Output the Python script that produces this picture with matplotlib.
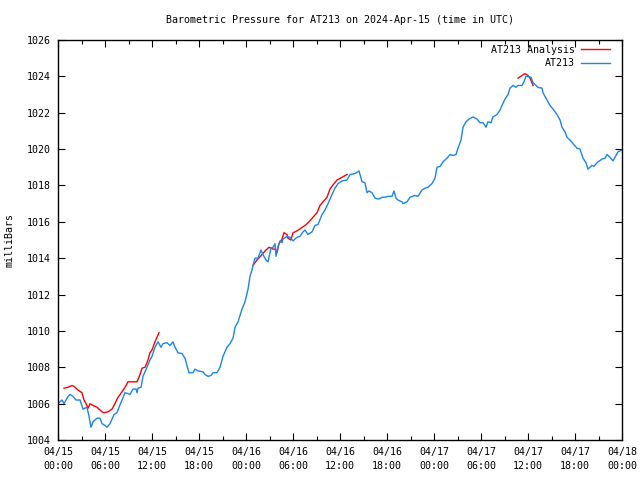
import numpy as np
import matplotlib
matplotlib.use("Agg")
import matplotlib.pyplot as plt

# hours since 2024-04-15 00:00 UTC, pressure in millibars
obs_hours = [0.0, 0.51, 0.77, 1.28, 1.53, 1.91, 2.30, 2.81, 3.19, 3.70, 3.96, 4.21, 4.47, 4.98,
             5.36, 5.62, 6.00, 6.26, 6.64, 7.15, 7.53, 7.79, 8.17, 8.55, 8.94, 9.19, 9.57, 9.96,
             10.09, 10.21, 10.60, 10.85, 11.36, 11.74, 12.0, 12.38, 12.77, 13.15, 13.40, 13.91,
             14.30, 14.68, 14.94, 15.32, 15.83, 16.21, 16.47, 16.72, 17.23, 17.49, 17.87, 18.51,
             18.77, 19.15, 19.53, 19.79, 20.30, 20.68, 21.06, 21.57, 21.96, 22.34, 22.60, 22.98,
             23.49, 23.87, 24.26, 24.51, 24.77, 24.89, 25.15, 25.53, 25.91, 26.17, 26.55, 26.81,
             27.19, 27.45, 27.70, 27.83, 27.96, 28.34, 28.60, 28.72, 29.23, 29.62, 30.0, 30.51,
             30.89, 31.28, 31.53, 31.91, 32.43, 32.81, 33.19, 33.70, 34.09, 34.47, 34.98, 35.36,
             35.74, 36.26, 36.89, 37.28, 37.91, 38.43, 38.81, 39.19, 39.45, 39.70, 40.09, 40.47,
             40.98, 41.36, 41.74, 42.13, 42.64, 42.89, 43.15, 43.40, 43.91, 44.04, 44.55, 44.94,
             45.57, 45.96, 46.47, 46.85, 47.23, 47.74, 48.13, 48.38, 48.77, 49.15, 49.66, 50.04,
             50.43, 50.81, 51.06, 51.45, 51.70, 52.09, 52.47, 52.98, 53.49, 53.87, 54.26, 54.64,
             54.89, 55.28, 55.53, 56.04, 56.43, 56.68, 57.06, 57.45, 57.70, 58.09, 58.47, 58.72,
             59.23, 59.49, 59.74, 60.0, 60.38, 60.64, 60.89, 61.28, 61.79, 61.91, 62.43, 62.81,
             63.19, 63.70, 64.09, 64.34, 64.72, 64.98, 65.36, 65.74, 66.26, 66.64, 67.02, 67.40,
             67.66, 68.17, 68.43, 68.81, 69.45, 69.83, 70.09, 70.47, 70.85, 71.23, 71.49, 72.0]
obs_mbar = [1006.0, 1006.2, 1006.0, 1006.4, 1006.5, 1006.4, 1006.2, 1006.2, 1005.7, 1005.8,
            1005.3, 1004.7, 1005.0, 1005.2, 1005.2, 1004.9, 1004.8, 1004.7, 1004.9, 1005.4,
            1005.5, 1005.8, 1006.2, 1006.6, 1006.55, 1006.5, 1006.8, 1006.8, 1006.6, 1006.85,
            1006.9, 1007.5, 1008.0, 1008.4, 1008.6, 1009.1, 1009.4, 1009.1, 1009.3, 1009.35,
            1009.2, 1009.4, 1009.1, 1008.8, 1008.75, 1008.5, 1008.1, 1007.7, 1007.7, 1007.9,
            1007.8, 1007.75, 1007.6, 1007.5, 1007.55, 1007.7, 1007.7, 1008.0, 1008.6, 1009.1,
            1009.3, 1009.6, 1010.2, 1010.5, 1011.2, 1011.6, 1012.3, 1013.0, 1013.35, 1013.6,
            1014.0, 1014.0, 1014.45, 1014.2, 1013.9, 1013.8, 1014.55, 1014.6, 1014.8, 1014.1,
            1014.45, 1014.95, 1014.85, 1015.05, 1015.2, 1015.15, 1014.95, 1015.15, 1015.2,
            1015.45, 1015.55, 1015.3, 1015.45, 1015.8, 1015.85, 1016.4, 1016.65, 1017.0, 1017.5,
            1017.85, 1018.1, 1018.25, 1018.3, 1018.6, 1018.65, 1018.8, 1018.2, 1018.15, 1017.6,
            1017.7, 1017.6, 1017.3, 1017.25, 1017.35, 1017.35, 1017.4, 1017.4, 1017.7, 1017.3,
            1017.2, 1017.1, 1017.0, 1017.1, 1017.35, 1017.45, 1017.4, 1017.75, 1017.85, 1017.9,
            1018.1, 1018.4, 1019.0, 1019.05, 1019.3, 1019.5, 1019.7, 1019.65, 1019.7, 1020.05,
            1020.5, 1021.2, 1021.5, 1021.65, 1021.77, 1021.65, 1021.45, 1021.45, 1021.2, 1021.5,
            1021.45, 1021.77, 1021.9, 1022.15, 1022.4, 1022.75, 1023.0, 1023.35, 1023.5, 1023.4,
            1023.5, 1023.5, 1023.7, 1024.0, 1024.0, 1023.95, 1023.65, 1023.55, 1023.4, 1023.35,
            1023.1, 1022.7, 1022.4, 1022.2, 1021.9, 1021.6, 1021.2, 1020.95, 1020.65, 1020.5,
            1020.3, 1020.05, 1020.0, 1019.5, 1019.25, 1018.9, 1019.1, 1019.05, 1019.25, 1019.45,
            1019.5, 1019.7, 1019.55, 1019.35, 1019.65, 1019.85, 1019.95]

# analysis series, NaN marks the gaps between segments
ana_hours = [0.77, 1.28, 1.79, 2.04, 2.55, 3.06, 3.32, 3.70, 3.83, 4.09, 4.47, 4.98, 5.62, 5.87,
             6.38, 6.89, 7.15, 7.66, 8.17, 8.55, 8.94, 9.45, 10.09, 10.47, 10.72, 11.11, 11.49,
             11.74, 12.0, 12.38, 12.64, 12.89, 18.0,
             24.89, 25.40, 26.04, 26.55, 26.94, 27.45, 27.70, 27.96, 28.21, 28.60, 28.85, 29.23,
             29.36, 29.74, 30.0, 30.51, 31.02, 31.53, 32.04, 32.55, 33.06, 33.45, 33.83, 34.34,
             34.72, 35.23, 35.62, 36.26, 36.89, 48.0,
             58.72, 59.23, 59.62, 60.0, 60.26, 60.64]
ana_mbar = [1006.85, 1006.9, 1007.0, 1006.95, 1006.75, 1006.6, 1006.2, 1005.9, 1005.75, 1006.0,
            1005.9, 1005.8, 1005.55, 1005.5, 1005.55, 1005.7, 1005.9, 1006.35, 1006.65, 1006.9,
            1007.2, 1007.2, 1007.2, 1007.6, 1007.95, 1008.0, 1008.4, 1008.8, 1008.95, 1009.4,
            1009.65, 1009.9, np.nan,
            1013.6, 1013.9, 1014.2, 1014.45, 1014.6, 1014.5, 1014.5, 1014.3, 1014.8, 1015.05,
            1015.4, 1015.3, 1015.1, 1015.0, 1015.4, 1015.5, 1015.65, 1015.8, 1016.0, 1016.25,
            1016.5, 1016.9, 1017.1, 1017.35, 1017.8, 1018.1, 1018.3, 1018.45, 1018.6, np.nan,
            1023.9, 1024.05, 1024.15, 1024.05, 1023.9, 1023.5]

tick_labels = ["04/15\n00:00", "04/15\n06:00", "04/15\n12:00", "04/15\n18:00",
               "04/16\n00:00", "04/16\n06:00", "04/16\n12:00", "04/16\n18:00",
               "04/17\n00:00", "04/17\n06:00", "04/17\n12:00", "04/17\n18:00",
               "04/18\n00:00"]

plt.rcParams["font.family"] = ["DejaVu Sans Mono"]
plt.rcParams["font.size"] = 7.2

fig = plt.figure(figsize=(6.4, 4.8), dpi=100)
ax = fig.add_axes([58 / 640, 40 / 480, 564 / 640, 400 / 480])

ax.plot(ana_hours, ana_mbar, color="#ff0000", lw=1.0, label="AT213 Analysis")
ax.plot(obs_hours, obs_mbar, color="#1a84f0", lw=1.0, label="AT213")

ax.set_xlim(0, 72)
ax.set_ylim(1004, 1026)
ax.set_xticks(np.arange(0, 73, 6))
ax.set_xticklabels(tick_labels)
ax.set_xticks(np.arange(3, 72, 6), minor=True)
ax.set_yticks(np.arange(1004, 1027, 2))
ax.tick_params(which="both", direction="in", top=True, right=True, color="black")
ax.tick_params(which="major", length=5, width=0.8, pad=5)
ax.tick_params(which="minor", length=3, width=0.8)
for lbl in ax.get_xticklabels():
    lbl.set_linespacing(1.5)
for s in ax.spines.values():
    s.set_linewidth(1.0)

ax.set_ylabel("milliBars", labelpad=9)
ax.set_title("Barometric Pressure for AT213 on 2024-Apr-15 (time in UTC)",
             fontsize=7.2, pad=12)

ax.legend(loc="upper right", bbox_to_anchor=(0.9858, 0.9975), borderaxespad=0,
          frameon=False, markerfirst=False, handlelength=2.9,
          handletextpad=0.6, labelspacing=0.35)

fig.savefig("out.png", dpi=100)
